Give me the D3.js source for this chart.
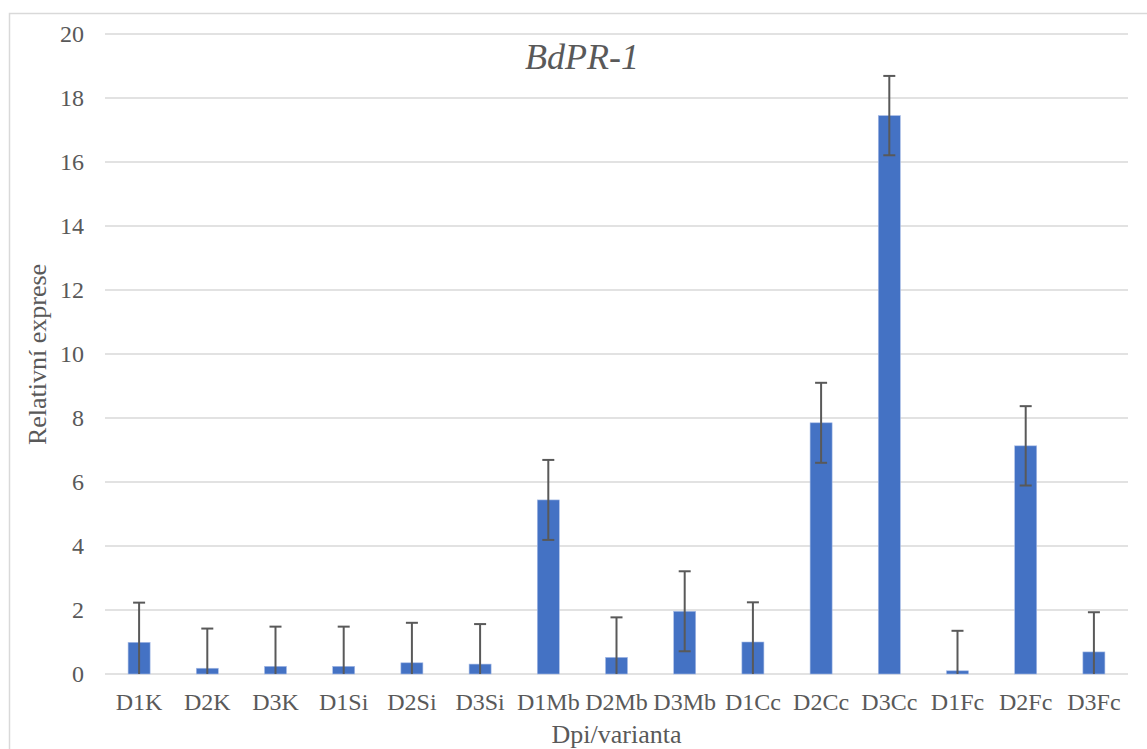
<!DOCTYPE html>
<html>
<head>
<meta charset="utf-8">
<script src="https://cdn.jsdelivr.net/npm/d3@7"></script>
<style>
  html, body { margin: 0; padding: 0; background: #fff; }
  svg { display: block; font-family: "Liberation Serif", "Times New Roman", serif; }
</style>
</head>
<body>
<div id="chart"></div>
<script>
// BdPR-1 — relativní exprese, sloupce s chybovými úsečkami

const categories = ["D1K", "D2K", "D3K", "D1Si", "D2Si", "D3Si", "D1Mb", "D2Mb", "D3Mb",
                    "D1Cc", "D2Cc", "D3Cc", "D1Fc", "D2Fc", "D3Fc"];
const values = [0.99, 0.18, 0.24, 0.24, 0.35, 0.31, 5.44, 0.52, 1.96,
                1.00, 7.85, 17.45, 0.10, 7.13, 0.69];
const errors = [1.24, 1.24, 1.24, 1.24, 1.25, 1.25, 1.25, 1.25, 1.25,
                1.24, 1.25, 1.24, 1.25, 1.24, 1.24];
const yTicks = [0, 2, 4, 6, 8, 10, 12, 14, 16, 18, 20];

const W = 1147, H = 749;
const plot = { left: 105, right: 1128, top: 34, bottom: 674 };
const textColor = "#595959";

// rows built from the arrays above
const rows = categories.map((c, i) => ({ cat: c, value: values[i], err: errors[i] }));

const svg = d3.select("#chart").append("svg")
  .attr("width", W)
  .attr("height", H);

// ── chart area frame ──
svg.append("rect")
  .attr("x", 9.5).attr("y", 13.5)
  .attr("width", W + 20).attr("height", H + 20)
  .attr("fill", "none")
  .attr("stroke", "#d9d9d9")
  .attr("stroke-width", 1.5);

const x = d3.scaleBand()
  .domain(categories)
  .range([plot.left, plot.right])
  .paddingInner(0.677)
  .paddingOuter(0.677 / 2);

const y = d3.scaleLinear()
  .domain([0, 20])
  .range([plot.bottom, plot.top]);

const cx = d => x(d.cat) + x.bandwidth() / 2;

// ── gridlines ──
svg.append("g")
  .selectAll("line")
  .data(yTicks)
  .join("line")
  .attr("x1", plot.left).attr("x2", plot.right)
  .attr("y1", d => y(d)).attr("y2", d => y(d))
  .attr("stroke", "#d9d9d9")
  .attr("stroke-width", 1.5);

// ── y axis labels ──
const yAxis = svg.append("g")
  .attr("transform", `translate(${plot.left - 21},0)`)
  .call(d3.axisLeft(y).tickValues(yTicks).tickSize(0).tickPadding(0));
yAxis.select(".domain").remove();
yAxis.selectAll("text")
  .attr("fill", textColor)
  .style("font-family", "Liberation Serif, serif")
  .style("font-size", "24px");

// ── x axis labels ──
const xAxis = svg.append("g")
  .attr("transform", `translate(0,${plot.bottom})`)
  .call(d3.axisBottom(x).tickSize(0).tickPadding(19));
xAxis.select(".domain").remove();
xAxis.selectAll("text")
  .attr("fill", textColor)
  .style("font-family", "Liberation Serif, serif")
  .style("font-size", "24px");

// ── bars ──
svg.append("g")
  .selectAll("rect")
  .data(rows)
  .join("rect")
  .attr("x", d => x(d.cat))
  .attr("width", x.bandwidth())
  .attr("y", d => y(d.value))
  .attr("height", d => y(0) - y(d.value))
  .attr("fill", "#4472c4")
  .attr("stroke", "#a9bde6")
  .attr("stroke-width", 0.6);

// ── error bars (lower end clipped at 0, like the plot area clip) ──
const eb = svg.append("g")
  .attr("stroke", "#595959")
  .attr("stroke-width", 2)
  .selectAll("g")
  .data(rows)
  .join("g");

eb.append("line")
  .attr("x1", cx).attr("x2", cx)
  .attr("y1", d => y(d.value + d.err))
  .attr("y2", d => y(Math.max(0, d.value - d.err)));

eb.append("line")
  .attr("x1", d => cx(d) - 6).attr("x2", d => cx(d) + 6)
  .attr("y1", d => y(d.value + d.err))
  .attr("y2", d => y(d.value + d.err));

eb.filter(d => d.value - d.err > 0)
  .append("line")
  .attr("x1", d => cx(d) - 6).attr("x2", d => cx(d) + 6)
  .attr("y1", d => y(d.value - d.err))
  .attr("y2", d => y(d.value - d.err));

// ── titles ──
svg.append("text")
  .attr("x", 582).attr("y", 69)
  .attr("text-anchor", "middle")
  .attr("fill", textColor)
  .style("font-size", "36px")
  .style("font-style", "italic")
  .text("BdPR-1");

svg.append("text")
  .attr("x", (plot.left + plot.right) / 2).attr("y", 743)
  .attr("text-anchor", "middle")
  .attr("fill", textColor)
  .style("font-size", "26px")
  .text("Dpi/varianta");

svg.append("text")
  .attr("transform", `translate(46,${(262 + 447) / 2}) rotate(-90)`)
  .attr("text-anchor", "middle")
  .attr("fill", textColor)
  .style("font-size", "26px")
  .text("Relativní exprese");
</script>
</body>
</html>
